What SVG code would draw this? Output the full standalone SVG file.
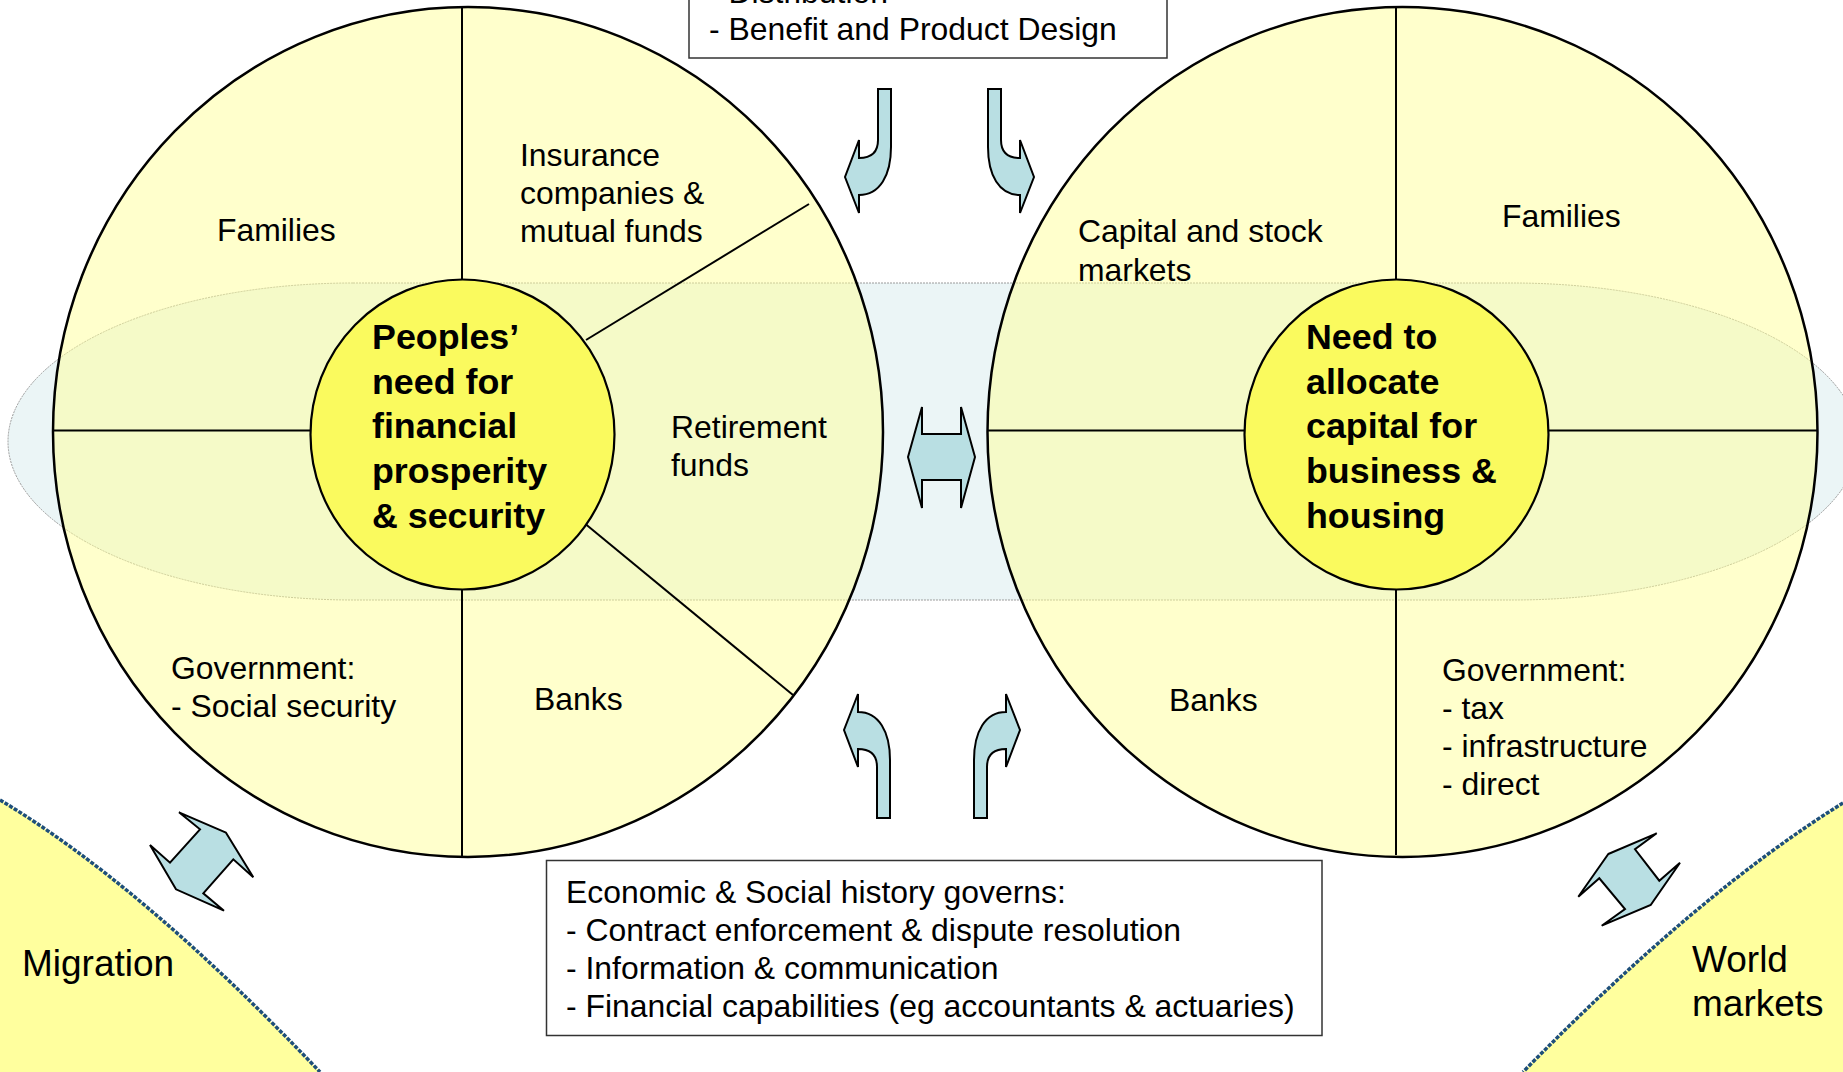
<svg xmlns="http://www.w3.org/2000/svg" width="1843" height="1072" viewBox="0 0 1843 1072">
  <style>
    .txt { font-family: "Liberation Sans", Arial, sans-serif; font-size: 31.9px; fill: #000; }
    .bold { font-family: "Liberation Sans", Arial, sans-serif; font-size: 35.8px; font-weight: bold; fill: #000; }
    .big { font-family: "Liberation Sans", Arial, sans-serif; font-size: 37px; fill: #000; }
    .outer { fill: #FFFF99; fill-opacity: 0.5; stroke: #000; stroke-width: 2.5; }
    .inner { fill: #FAFA5E; stroke: #000; stroke-width: 2.2; }
    .div { stroke: #000; stroke-width: 2; fill: none; }
    .box { fill: #FFF; stroke: #333; stroke-width: 1.5; }
    .arrow { fill: #B9DFE3; stroke: #000; stroke-width: 2; stroke-linejoin: miter; }
    .corner { fill: #FFFF9E; stroke: #1E4F7A; stroke-width: 3.5; stroke-dasharray: 4 1.5; }
  </style>
  <defs>
    <path id="bend-arrow" d="M878,89 L891,89 L891,147 C891,175 880,195 859,195 L859,213 L845,177 L859,140 L859,158 C871,158 878,152 878,140 Z"/>
  </defs>

  <rect width="1843" height="1072" fill="#FFF"/>

  <!-- corner regions -->
  <g id="migration">
    <path d="M-4,800 L0,800 Q142,885 320,1072 L320,1076 L-4,1076 Z" fill="#FFFF9E"/>
    <path class="corner" fill="none" d="M0,800 Q142,885 320,1072"/>
    <text class="big" x="22" y="976">Migration</text>
  </g>
  <g id="world-markets">
    <path d="M1847,803 L1843,803 Q1699.5,892 1523,1072 L1523,1076 L1847,1076 Z" fill="#FFFF9E"/>
    <path class="corner" fill="none" d="M1843,803 Q1699.5,892 1523,1072"/>
    <text class="big" x="1692" y="972">World</text>
    <text class="big" x="1692" y="1016">markets</text>
  </g>

  <!-- shared band behind both circles -->
  <rect id="band" x="8" y="283" width="1850" height="317" rx="345" ry="158.5" fill="#EBF5F6" stroke="#9A9A9A" stroke-width="1" stroke-dasharray="2 1"/>

  <!-- left circle: people's side -->
  <g id="people-circle">
    <ellipse class="outer" cx="468" cy="432" rx="415" ry="425"/>
    <line class="div" x1="462" y1="7" x2="462" y2="279"/>
    <line class="div" x1="462" y1="590" x2="462" y2="857"/>
    <line class="div" x1="53" y1="430.5" x2="311" y2="430.5"/>
    <line class="div" x1="586" y1="340" x2="809" y2="204"/>
    <line class="div" x1="583" y1="522" x2="793" y2="695"/>
    <ellipse class="inner" cx="462.5" cy="434.5" rx="152" ry="155"/>
    <text class="txt" x="217" y="241">Families</text>
    <text class="txt" x="520" y="166">Insurance</text>
    <text class="txt" x="520" y="204">companies &amp;</text>
    <text class="txt" x="520" y="242">mutual funds</text>
    <text class="txt" x="671" y="438">Retirement</text>
    <text class="txt" x="671" y="476">funds</text>
    <text class="txt" x="171" y="679">Government:</text>
    <text class="txt" x="171" y="717">- Social security</text>
    <text class="txt" x="534" y="710">Banks</text>
    <text class="bold" x="372" y="349">Peoples’</text>
    <text class="bold" x="372" y="394">need for</text>
    <text class="bold" x="372" y="438">financial</text>
    <text class="bold" x="372" y="483">prosperity</text>
    <text class="bold" x="372" y="528">&amp; security</text>
  </g>

  <!-- right circle: capital side -->
  <g id="capital-circle">
    <ellipse class="outer" cx="1402.5" cy="432" rx="415" ry="425"/>
    <line class="div" x1="1396" y1="7" x2="1396" y2="279"/>
    <line class="div" x1="1396" y1="590" x2="1396" y2="855"/>
    <line class="div" x1="988" y1="430.5" x2="1245" y2="430.5"/>
    <line class="div" x1="1548" y1="430.5" x2="1817" y2="430.5"/>
    <ellipse class="inner" cx="1396.5" cy="434.5" rx="152" ry="155"/>
    <text class="txt" x="1078" y="242">Capital and stock</text>
    <text class="txt" x="1078" y="281">markets</text>
    <text class="txt" x="1502" y="227">Families</text>
    <text class="txt" x="1169" y="711">Banks</text>
    <text class="txt" x="1442" y="681">Government:</text>
    <text class="txt" x="1442" y="719">- tax</text>
    <text class="txt" x="1442" y="757">- infrastructure</text>
    <text class="txt" x="1442" y="795">- direct</text>
    <text class="bold" x="1306" y="349">Need to</text>
    <text class="bold" x="1306" y="394">allocate</text>
    <text class="bold" x="1306" y="438">capital for</text>
    <text class="bold" x="1306" y="483">business &amp;</text>
    <text class="bold" x="1306" y="528">housing</text>
  </g>

  <!-- top box -->
  <g id="design-box">
    <rect class="box" x="689" y="-40" width="478" height="98"/>
    <text class="txt" x="709" y="3">- Distribution</text>
    <text class="txt" x="709" y="40">- Benefit and Product Design</text>
  </g>

  <!-- bottom box -->
  <g id="history-box">
    <rect class="box" x="546.5" y="860.5" width="775.5" height="175"/>
    <text class="txt" x="566" y="903">Economic &amp; Social history governs:</text>
    <text class="txt" x="566" y="941">- Contract enforcement &amp; dispute resolution</text>
    <text class="txt" x="566" y="979">- Information &amp; communication</text>
    <text class="txt" x="566" y="1017">- Financial capabilities (eg accountants &amp; actuaries)</text>
  </g>

  <!-- connectors -->
  <g id="connectors">
    <use href="#bend-arrow" class="arrow"/>
    <use href="#bend-arrow" class="arrow" transform="matrix(-1,0,0,1,1879,0)"/>
    <use href="#bend-arrow" class="arrow" transform="matrix(1,0,0,-1,-1,907)"/>
    <use href="#bend-arrow" class="arrow" transform="matrix(-1,0,0,-1,1865,907)"/>
    <path class="arrow" d="M908,457 L922,407 L922,434 L961,434 L961,407 L975,457 L961,508 L961,480 L922,480 L922,508 Z"/>
    <path class="arrow" d="M226,832.7 L179,812.3 L200,829.3 L170,862.7 L150,845 L176,889.3 L224,910.7 L203.3,893.3 L233.3,859.3 L253.3,877.3 Z"/>
    <path class="arrow" d="M1608.3,854 L1656.7,833.3 L1635,849.3 L1659.3,880.7 L1680,862.7 L1650.7,905 L1601.7,925.7 L1625,909 L1599.3,878.3 L1578.3,896.7 Z"/>
  </g>
</svg>
